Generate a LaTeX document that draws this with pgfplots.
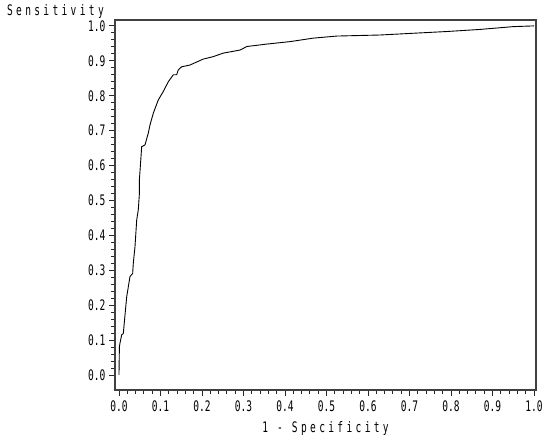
\documentclass[border=0pt]{standalone}
\usepackage{fontspec}
\usepackage{pgfplots}
\pgfplotsset{compat=1.18}
\newfontfamily\sasfont[FakeStretch=0.66]{DejaVu Sans Mono}
\newfontfamily\saslab[FakeStretch=0.66,LetterSpace=23]{DejaVu Sans Mono}
\begin{document}
\begin{tikzpicture}
\begin{axis}[
  scale only axis, width=421bp, height=370bp,
  xmin=-0.0096, xmax=1.0048, ymin=-0.043, ymax=1.017,
  axis line style={draw=black!75, line width=1.2bp},
  tick align=outside, xtick pos=left, ytick pos=left,
  xtick={0,0.1,0.2,0.3,0.4,0.5,0.6,0.7,0.8,0.9,1.0},
  ytick={0,0.1,0.2,0.3,0.4,0.5,0.6,0.7,0.8,0.9,1.0},
  xticklabels={0.0,0.1,0.2,0.3,0.4,0.5,0.6,0.7,0.8,0.9,1.0},
  yticklabels={0.0,0.1,0.2,0.3,0.4,0.5,0.6,0.7,0.8,0.9,1.0},
  minor tick num=4,
  major tick length=6bp, minor tick length=3.5bp,
  tick style={black!85, line width=0.9bp},
  ticklabel style={font=\fontsize{14.5bp}{17bp}\sasfont},
  xticklabel style={yshift=-1bp},
  xlabel={1 - Specificity},
  xlabel style={font=\fontsize{14.5bp}{17bp}\saslab, at={(rel axis cs:0.5,0)}, anchor=base, yshift=-42bp},
  ylabel={Sensitivity},
  ylabel style={font=\fontsize{14.5bp}{17bp}\saslab, rotate=-90, at={(rel axis cs:0,1)}, anchor=base east, xshift=-10bp, yshift=4bp, inner sep=1bp},
]
\addplot[black, line width=0.9bp] coordinates {
(0,0) (0.001,0.081) (0.0024,0.091) (0.0065,0.115) (0.0104,0.119)
(0.0186,0.224) (0.0265,0.282) (0.033,0.291) (0.0345,0.320) (0.0386,0.368)
(0.0427,0.444) (0.0465,0.473) (0.049,0.516) (0.049,0.559) (0.050,0.573)
(0.0547,0.654) (0.0627,0.659) (0.0706,0.693) (0.0747,0.716) (0.0827,0.750)
(0.0947,0.788) (0.1067,0.812) (0.1188,0.840) (0.1308,0.860) (0.139,0.860)
(0.1429,0.874) (0.151,0.883) (0.171,0.888) (0.203,0.905) (0.227,0.912)
(0.251,0.922) (0.292,0.931) (0.308,0.941) (0.356,0.948) (0.412,0.955)
(0.468,0.965) (0.525,0.971) (0.629,0.974) (0.709,0.979) (0.790,0.984)
(0.870,0.990) (0.950,0.998) (0.998,1.0) (1,1)
};
\end{axis}
\pgfresetboundingbox
\path ([xshift=-115bp,yshift=-51bp]current axis.south west) rectangle ([xshift=8bp,yshift=20bp]current axis.north east);
\end{tikzpicture}
\end{document}
